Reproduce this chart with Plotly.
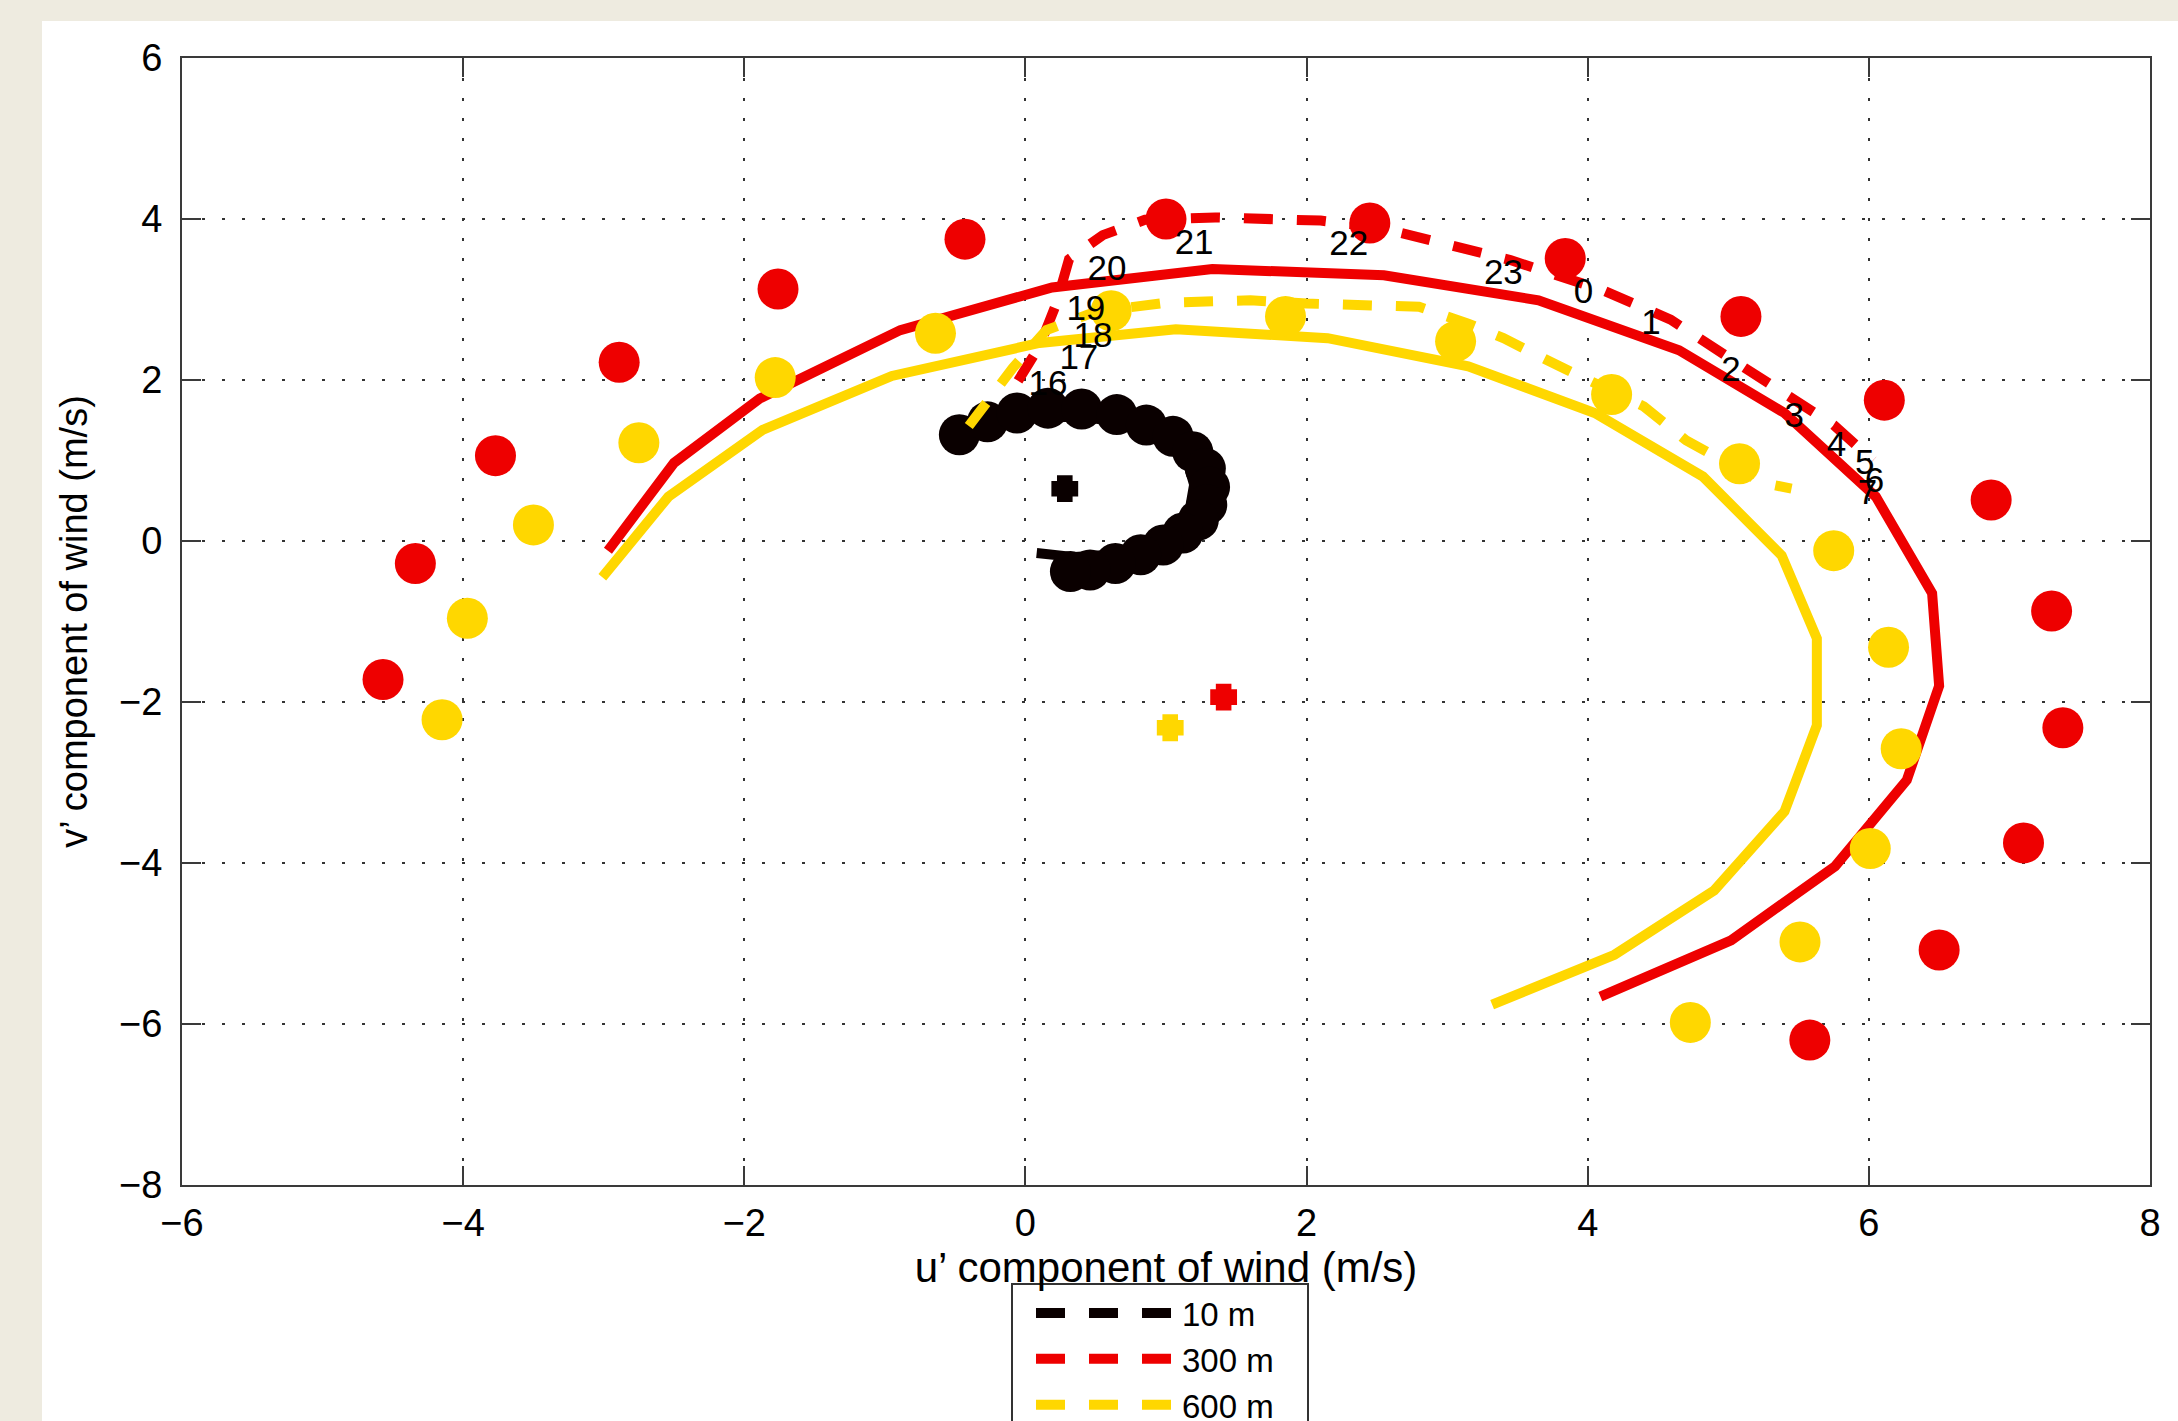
import plotly.graph_objects as go

# ---------------- data ----------------
# 10 m
black_circ_u = [-0.47, -0.27, -0.06, 0.16, 0.40, 0.65, 0.86, 1.05, 1.19, 1.28, 1.31, 1.29, 1.23, 1.12, 0.98, 0.82, 0.64, 0.46, 0.32]
black_circ_v = [1.32, 1.48, 1.59, 1.65, 1.64, 1.57, 1.44, 1.30, 1.11, 0.90, 0.67, 0.45, 0.26, 0.10, -0.05, -0.17, -0.28, -0.36, -0.38]
black_line_u = [-0.35, 0.0, 0.4, 0.75, 1.0, 1.15, 1.20, 1.17, 1.05, 0.85, 0.60, 0.35, 0.08]
black_line_v = [1.35, 1.52, 1.55, 1.45, 1.25, 1.0, 0.70, 0.40, 0.15, -0.05, -0.17, -0.20, -0.15]
black_dash_u = black_circ_u
black_dash_v = black_circ_v
black_mean_u = [0.28]
black_mean_v = [0.65]

# 300 m
red_circ_u = [-4.57, -4.34, -3.77, -2.89, -1.76, -0.43, 1.00, 2.45, 3.84, 5.09, 6.11, 6.87, 7.30, 7.38, 7.10, 6.50, 5.58]
red_circ_v = [-1.72, -0.28, 1.06, 2.22, 3.13, 3.75, 4.00, 3.95, 3.51, 2.79, 1.75, 0.51, -0.87, -2.32, -3.75, -5.08, -6.20]
red_line_u = [-2.97, -2.50, -1.89, -0.89, 0.19, 1.33, 2.55, 3.65, 4.65, 5.40, 6.05, 6.45, 6.50, 6.27, 5.76, 5.02, 4.09]
red_line_v = [-0.12, 0.97, 1.77, 2.62, 3.15, 3.38, 3.30, 2.99, 2.37, 1.59, 0.55, -0.65, -1.80, -2.97, -4.04, -4.96, -5.66]
red_dash_u = [-0.12, 0.10, 0.22, 0.31, 0.55, 0.85, 1.35, 2.10, 2.50, 3.10, 3.45, 4.10, 4.59, 5.10, 5.45, 5.75, 6.03]
red_dash_v = [1.80, 2.42, 2.95, 3.50, 3.80, 3.99, 4.02, 3.98, 3.90, 3.66, 3.49, 3.12, 2.75, 2.17, 1.79, 1.44, 1.00]
red_mean_u = [1.41]
red_mean_v = [-1.94]

# 600 m
yel_circ_u = [-4.15, -3.97, -3.50, -2.75, -1.78, -0.64, 0.61, 1.85, 3.06, 4.17, 5.08, 5.75, 6.14, 6.23, 6.01, 5.51, 4.73]
yel_circ_v = [-2.22, -0.96, 0.20, 1.22, 2.03, 2.58, 2.86, 2.79, 2.48, 1.82, 0.96, -0.12, -1.32, -2.58, -3.82, -4.98, -5.98]
yel_line_u = [-3.01, -2.54, -1.87, -0.95, 0.10, 1.07, 2.15, 3.15, 4.05, 4.82, 5.38, 5.63, 5.63, 5.40, 4.90, 4.19, 3.32]
yel_line_v = [-0.45, 0.55, 1.38, 2.05, 2.46, 2.63, 2.52, 2.17, 1.59, 0.80, -0.18, -1.21, -2.29, -3.36, -4.34, -5.14, -5.76]
yel_dash_u = [-0.48, -0.28, -0.09, 0.15, 0.50, 1.00, 1.60, 2.00, 2.80, 3.15, 3.40, 3.80, 4.40, 4.70, 5.05, 5.25, 5.45]
yel_dash_v = [1.25, 1.70, 2.15, 2.62, 2.85, 2.96, 2.99, 2.95, 2.91, 2.70, 2.52, 2.17, 1.67, 1.25, 0.92, 0.72, 0.65]
yel_mean_u = [1.03]
yel_mean_v = [-2.32]

# hour labels
hour_labels = ["16", "17", "18", "19", "20", "21", "22", "23", "0", "1", "2", "3", "4", "5", "6", "7"]
hour_u = [0.16, 0.38, 0.48, 0.43, 0.58, 1.20, 2.30, 3.40, 3.97, 4.45, 5.02, 5.47, 5.77, 5.97, 6.04, 5.99]
hour_v = [1.92, 2.25, 2.52, 2.85, 3.35, 3.68, 3.66, 3.30, 3.06, 2.68, 2.10, 1.52, 1.17, 0.94, 0.72, 0.57]

x_ticks = [-6, -4, -2, 0, 2, 4, 6, 8]
y_ticks = [-8, -6, -4, -2, 0, 2, 4, 6]

series_names = ["10 m", "300 m", "600 m"]

# ---------------- styles ----------------
BLACK = "#0a0000"
RED = "#ee0000"
YEL = "#ffd700"
FONT = "Liberation Sans, Arial, Helvetica, sans-serif"
LW = 10
DASH = "0px,18px,29px,6px"
CIRC = 41
PAD = "\u00a0\u00a0\u00a0"   # right padding inside the legend box

fig = go.Figure()

def add_series(name, color, du, dv, lu, lv, cu, cv, mu, mv):
    fig.add_trace(go.Scatter(x=du, y=dv, mode="lines", name=name + PAD,
                             line=dict(color=color, width=LW, dash=DASH),
                             showlegend=True))
    fig.add_trace(go.Scatter(x=lu, y=lv, mode="lines", showlegend=False,
                             line=dict(color=color, width=LW)))
    fig.add_trace(go.Scatter(x=cu, y=cv, mode="markers", showlegend=False,
                             marker=dict(color=color, size=CIRC, symbol="circle",
                                         line=dict(width=0))))
    fig.add_trace(go.Scatter(x=mu, y=mv, mode="markers", showlegend=False,
                             marker=dict(color=color, size=14, symbol="cross",
                                         line=dict(width=10, color=color))))

add_series(series_names[0], BLACK, black_dash_u, black_dash_v, black_line_u, black_line_v,
           black_circ_u, black_circ_v, black_mean_u, black_mean_v)
add_series(series_names[1], RED, red_dash_u, red_dash_v, red_line_u, red_line_v,
           red_circ_u, red_circ_v, red_mean_u, red_mean_v)
add_series(series_names[2], YEL, yel_dash_u, yel_dash_v, yel_line_u, yel_line_v,
           yel_circ_u, yel_circ_v, yel_mean_u, yel_mean_v)

fig.add_trace(go.Scatter(x=hour_u, y=hour_v, mode="text", text=hour_labels,
                         textposition="middle center", showlegend=False,
                         textfont=dict(family=FONT, size=35, color="black")))

W, H = 2178, 1421
L, R, T, B = 182, 28, 58, 236
pw, ph = W - L - R, H - T - B

def axis_common(standoff):
    return dict(
        showline=True, linecolor="#3a3a3a", linewidth=2, mirror="ticks",
        ticks="inside", ticklen=19, tickwidth=2, tickcolor="#3a3a3a",
        showgrid=True, gridcolor="#333333", gridwidth=2, griddash="3px,17px",
        zeroline=False, tickfont=dict(family=FONT, size=38, color="black"),
        ticklabelstandoff=standoff,
    )

fig.update_layout(
    width=W, height=H,
    margin=dict(l=L, r=R, t=T, b=B, autoexpand=False),
    paper_bgcolor="#eeebe0",
    plot_bgcolor="white",
    font=dict(family=FONT, color="black"),
    xaxis=dict(range=[-6, 8], tickvals=x_ticks,
               title=dict(text="u\u2019 component of wind (m/s)",
                          font=dict(family=FONT, size=42), standoff=8),
               **axis_common(3)),
    yaxis=dict(range=[-8, 6], tickvals=y_ticks,
               title=dict(text="v\u2019 component of wind (m/s)",
                          font=dict(family=FONT, size=38), standoff=20),
               **axis_common(10)),
    legend=dict(x=(1011 - L) / pw, y=(T + ph - 1283) / ph, xanchor="left", yanchor="top",
                bgcolor="white", bordercolor="#333333", borderwidth=2,
                font=dict(family=FONT, size=33, color="black"),
                itemwidth=159, tracegroupgap=0),
    shapes=[dict(type="rect", xref="paper", yref="paper",
                 x0=(42 - L) / pw, x1=(W + 10 - L) / pw,
                 y0=(T + ph - (H + 20)) / ph, y1=(T + ph - 21) / ph,
                 fillcolor="white", line=dict(width=0), layer="below")],
)

fig.write_html("out.html", config={"displayModeBar": False},
               post_script="document.body.style.margin='0';document.body.style.overflow='hidden';")
